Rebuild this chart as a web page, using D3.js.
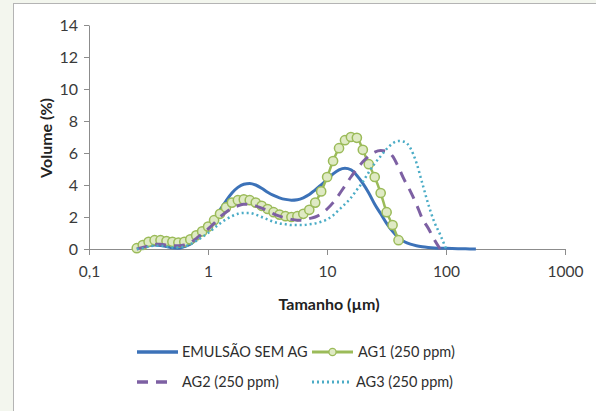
<!DOCTYPE html>
<html>
<head>
<meta charset="utf-8">
<script src="https://cdn.jsdelivr.net/npm/d3@7"></script>
<style>
  html, body { margin: 0; padding: 0; background: #f3f6ee; }
  svg { display: block; }
</style>
</head>
<body>
<svg id="chart" width="596" height="411"></svg>
<script>
// particle size classes (µm)
const sizes = [0.252, 0.283, 0.317, 0.356, 0.399, 0.448, 0.502, 0.564, 0.632, 0.710,
	0.796, 0.893, 1.002, 1.125, 1.262, 1.416, 1.589, 1.783, 2.000, 2.244,
	2.518, 2.825, 3.170, 3.557, 3.991, 4.477, 5.024, 5.637, 6.325, 7.096,
	7.962, 8.934, 10.024, 11.247, 12.619, 14.159, 15.887, 17.825, 20.000, 22.440,
	25.179, 28.251, 31.698, 35.566, 39.905, 44.774, 50.238, 56.368, 63.246, 70.963,
	79.621, 89.337, 100.237, 112.468, 126.191, 141.589, 158.866, 178.250]

// volume (%) per class
const semAG = [0, 0.1, 0.2, 0.25, 0.22, 0.15, 0.07, 0.05, 0.15, 0.3,
	0.6, 0.95, 1.35, 1.85, 2.45, 3.0, 3.5, 3.85, 4.05, 4.1,
	4.0, 3.8, 3.55, 3.35, 3.2, 3.1, 3.05, 3.08, 3.2, 3.4,
	3.7, 4.0, 4.35, 4.7, 4.95, 5.05, 4.95, 4.6, 4.1, 3.5,
	2.8, 2.2, 1.6, 1.1, 0.7, 0.45, 0.3, 0.2, 0.14, 0.1,
	0.07, 0.05, 0.04, 0.03, 0.02, 0.01, 0.005, 0]
const ag1 = [0.05, 0.25, 0.45, 0.55, 0.55, 0.5, 0.45, 0.4, 0.45, 0.6,
	0.85, 1.1, 1.4, 1.8, 2.2, 2.6, 2.9, 3.05, 3.1, 3.05,
	2.9, 2.7, 2.5, 2.3, 2.15, 2.05, 2.0, 2.05, 2.2, 2.45,
	2.9, 3.6, 4.5, 5.5, 6.3, 6.8, 7.0, 6.95, 6.2, 5.3,
	4.5, 3.5, 2.3, 1.5, 0.55]
const ag2 = [0, 0.1, 0.2, 0.3, 0.3, 0.25, 0.2, 0.2, 0.25, 0.4,
	0.65, 0.95, 1.25, 1.6, 2.0, 2.3, 2.55, 2.7, 2.8, 2.8,
	2.7, 2.55, 2.4, 2.2, 2.05, 1.95, 1.85, 1.8, 1.8, 1.9,
	2.0, 2.2, 2.5, 2.9, 3.4, 3.95, 4.5, 5.0, 5.45, 5.8,
	6.05, 6.15, 6.1, 5.8, 5.1, 4.3, 3.6, 2.8, 1.9, 1.3,
	0.6, 0]
const ag3 = [0, 0.05, 0.15, 0.2, 0.2, 0.15, 0.1, 0.1, 0.15, 0.3,
	0.5, 0.75, 1.0, 1.3, 1.6, 1.85, 2.05, 2.2, 2.25, 2.25,
	2.15, 2.0, 1.85, 1.7, 1.6, 1.55, 1.5, 1.5, 1.5, 1.55,
	1.6, 1.7, 1.85, 2.1, 2.45, 2.8, 3.2, 3.7, 4.2, 4.8,
	5.35, 5.8, 6.25, 6.6, 6.75, 6.7, 6.3, 5.4, 4.1, 2.8,
	1.7, 0.9, 0]

const seriesNames = ["EMULSÃO SEM AG", "AG1 (250 ppm)", "AG2 (250 ppm)", "AG3 (250 ppm)"]
const xTicks = [0.1, 1, 10, 100, 1000]
const yTicks = [0, 2, 4, 6, 8, 10, 12, 14]

const series = [
	{name: seriesNames[0], values: semAG, color: "#3c72b8", width: 3, dash: null},
	{name: seriesNames[1], values: ag1, color: "#9bbb59", width: 2.5, dash: null, marker: true},
	{name: seriesNames[2], values: ag2, color: "#7d60a3", width: 3, dash: "11,8"},
	{name: seriesNames[3], values: ag3, color: "#4bacc6", width: 2.5, dash: "2,3"},
]

const svg = d3.select("#chart")
const font = "Lato, 'Open Sans', sans-serif"

// white chart frame
svg.append("rect")
	.attr("x", 13.5).attr("y", 3.5)
	.attr("width", 620).attr("height", 430)
	.attr("fill", "#fff")
	.attr("stroke", "#b4b4b4")

const x = d3.scaleLog().domain([0.1, 1000]).range([89, 565])
const y = d3.scaleLinear().domain([0, 14]).range([249, 25])

// y axis
const yAxis = svg.append("g")
	.attr("transform", "translate(89,0)")
	.call(d3.axisLeft(y).tickValues(yTicks).tickSize(5).tickPadding(6).tickSizeOuter(0))
yAxis.select(".domain").attr("stroke", "#8c8c8c")
yAxis.selectAll(".tick line").attr("stroke", "#8c8c8c")
yAxis.selectAll("text")
	.attr("font-family", font).attr("font-size", 16).attr("fill", "#3a3a3a")

// x axis
const xAxis = svg.append("g")
	.attr("transform", "translate(0,249)")
	.call(d3.axisBottom(x).tickValues(xTicks).tickSize(6).tickPadding(11).tickSizeOuter(0)
		.tickFormat(d => d === 0.1 ? "0,1" : String(d)))
xAxis.select(".domain").attr("stroke", "#8c8c8c")
xAxis.selectAll(".tick line").attr("stroke", "#8c8c8c")
xAxis.selectAll("text")
	.attr("font-family", font).attr("font-size", 15.5).attr("fill", "#3a3a3a")

// axis titles
svg.append("text")
	.attr("transform", "translate(52,138) rotate(-90)")
	.attr("text-anchor", "middle")
	.attr("font-family", font).attr("font-size", 16).attr("font-weight", "bold")
	.attr("fill", "#222")
	.text("Volume (%)")

svg.append("text")
	.attr("x", 329).attr("y", 310)
	.attr("text-anchor", "middle")
	.attr("font-family", font).attr("font-size", 16).attr("font-weight", "bold")
	.attr("fill", "#222")
	.text("Tamanho (µm)")

// lines
const line = d3.line()
	.x(d => x(d.size))
	.y(d => y(d.value))
	.curve(d3.curveMonotoneX)

series.forEach(s => {
	const pts = s.values.map((v, i) => ({size: sizes[i], value: v}))
	svg.append("path")
		.datum(pts)
		.attr("d", line)
		.attr("fill", "none")
		.attr("stroke", s.color)
		.attr("stroke-width", s.width)
		.attr("stroke-dasharray", s.dash)
	if (s.marker) {
		svg.append("g").selectAll("circle")
			.data(pts)
			.join("circle")
			.attr("cx", d => x(d.size))
			.attr("cy", d => y(d.value))
			.attr("r", 4.6)
			.attr("fill", "#dfeac4")
			.attr("stroke", s.color)
			.attr("stroke-width", 1.5)
	}
})

// legend
const legendPos = [
	{x: 137, y: 352, tx: 182},
	{x: 312, y: 352, tx: 358},
	{x: 137, y: 382, tx: 182},
	{x: 312, y: 382, tx: 356},
]
series.forEach((s, i) => {
	const p = legendPos[i]
	const g = svg.append("g")
	const len = i === 2 ? 33 : (i === 3 ? 39 : 41)
	g.append("line")
		.attr("x1", p.x).attr("x2", p.x + len)
		.attr("y1", p.y).attr("y2", p.y)
		.attr("stroke", s.color)
		.attr("stroke-width", s.width + 0.5)
		.attr("stroke-dasharray", s.dash)
	if (s.marker) {
		g.append("circle")
			.attr("cx", p.x + len / 2).attr("cy", p.y).attr("r", 3.6)
			.attr("fill", "#dfeac4").attr("stroke", s.color).attr("stroke-width", 1.3)
	}
	g.append("text")
		.attr("x", p.tx).attr("y", p.y + 5)
		.attr("font-family", font).attr("font-size", 14.5)
		.attr("fill", "#2e2e2e")
		.text(s.name)
})
</script>
</body>
</html>
